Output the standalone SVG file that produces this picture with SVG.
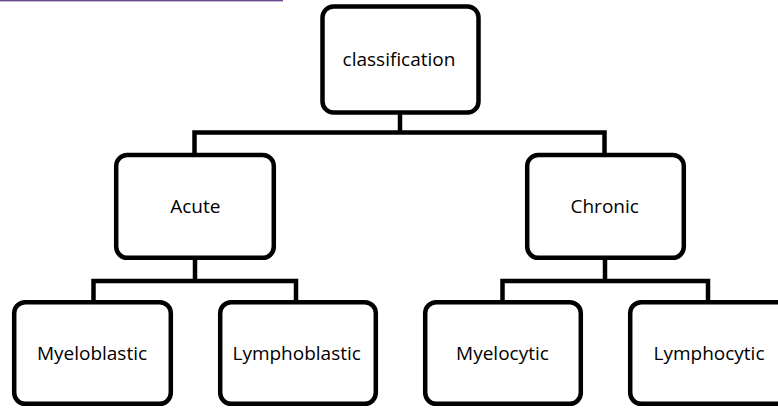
<svg xmlns="http://www.w3.org/2000/svg" width="778" height="408" viewBox="0 0 778 408">
<style>
.box{fill:#ffffff;stroke:#000000;stroke-width:4.5}
.conn{fill:none;stroke:#000000;stroke-width:4.5;stroke-linejoin:miter;stroke-linecap:butt}
.lbl{font-family:"Open Sans","Liberation Sans",sans-serif;font-size:19px;fill:#000000;text-anchor:middle}
</style>
<rect width="778" height="408" fill="#ffffff"/>
<rect x="0" y="0" width="283" height="1.4" fill="#6a4c8c"/>
<g id="connectors">
<path class="conn" d="M400 112 V132.5 M194.5 153 V132.5 H604.5 V153"/>
<path class="conn" d="M195 258 V281 M93.5 300 V281 H296 V300"/>
<path class="conn" d="M605 258 V281 M502.5 300 V281 H708 V300"/>
</g>
<g id="classification">
<rect class="box" x="322.5" y="6.5" width="156" height="106" rx="11"/>
<text class="lbl" x="399" y="66">classification</text>
</g>
<g id="acute">
<rect class="box" x="116.2" y="155" width="157.6" height="102.8" rx="11"/>
<text class="lbl" x="195.3" y="212.5">Acute</text>
</g>
<g id="chronic">
<rect class="box" x="527.2" y="155" width="156.6" height="102.8" rx="11"/>
<text class="lbl" x="604.7" y="212.5">Chronic</text>
</g>
<g id="myeloblastic">
<rect class="box" x="14.2" y="302.2" width="156.6" height="101.6" rx="11"/>
<text class="lbl" x="92" y="360">Myeloblastic</text>
</g>
<g id="lymphoblastic">
<rect class="box" x="220.2" y="302.2" width="155.6" height="101.6" rx="11"/>
<text class="lbl" x="296.7" y="360">Lymphoblastic</text>
</g>
<g id="myelocytic">
<rect class="box" x="425.2" y="302.2" width="155.6" height="101.6" rx="11"/>
<text class="lbl" x="502.5" y="360">Myelocytic</text>
</g>
<g id="lymphocytic">
<rect class="box" x="630.2" y="302.2" width="157" height="101.6" rx="11"/>
<text class="lbl" x="709" y="360">Lymphocytic</text>
</g>
</svg>
